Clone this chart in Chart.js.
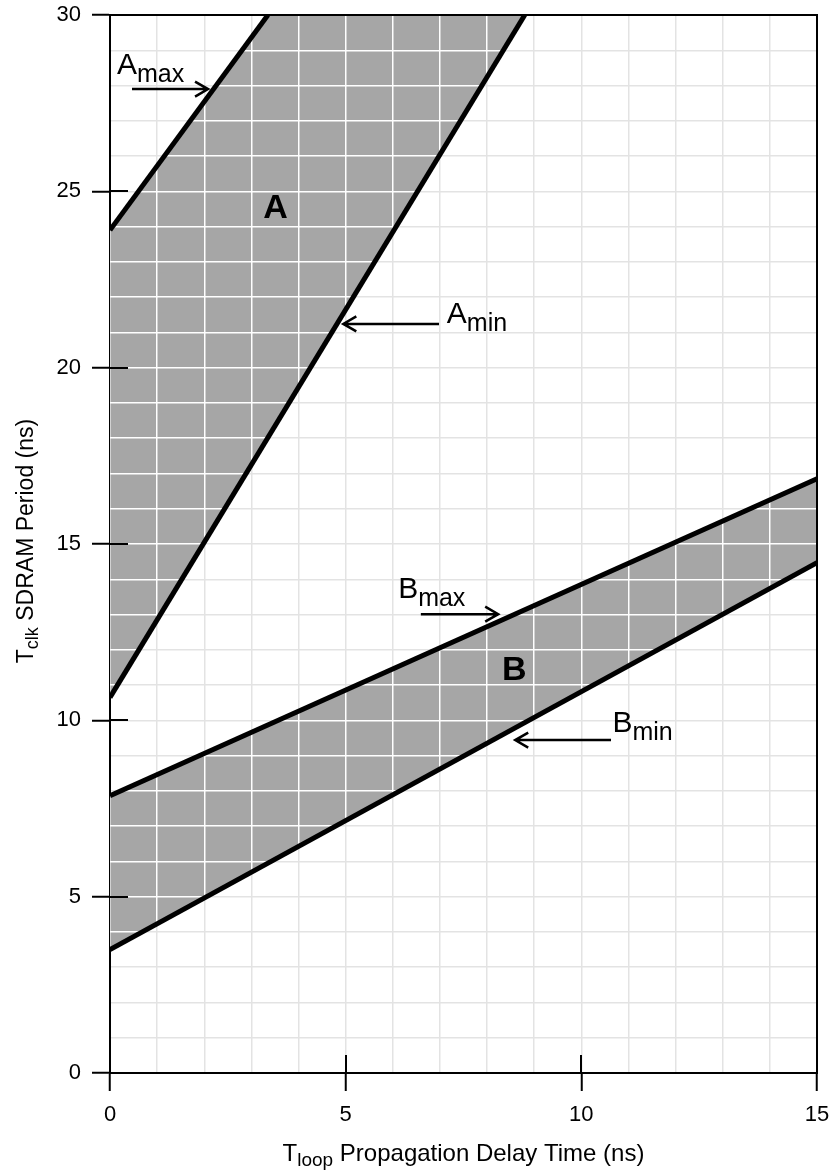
<!DOCTYPE html>
<html>
<head>
<meta charset="utf-8">
<script src="https://cdn.jsdelivr.net/npm/chart.js@4.4.1/dist/chart.umd.min.js"></script>
<style>
html,body{margin:0;padding:0;background:#fff;}
#wrap{width:830px;height:1171px;position:relative;}
</style>
</head>
<body>
<div id="wrap"><canvas id="c" width="830" height="1171"></canvas></div>
<script>
// ---- data ----
const xTickLabels = [0, 5, 10, 15];
const yTickLabels = [0, 5, 10, 15, 20, 25, 30];
const aMax = [{x: 0, y: 23.9}, {x: 3.35, y: 30}];
const aMin = [{x: 0, y: 10.65}, {x: 8.8, y: 30}];
const bMax = [{x: 0, y: 7.86}, {x: 15, y: 16.85}];
const bMin = [{x: 0, y: 3.5}, {x: 15, y: 14.47}];
const regionA = [aMin[0], aMax[0], aMax[1], aMin[1]];
const regionB = [bMin[0], bMax[0], bMax[1], bMin[1]];

const xTitle = {main: 'T', sub: 'loop', rest: ' Propagation Delay Time (ns)'};
const yTitle = {main: 'T', sub: 'clk', rest: ' SDRAM Period (ns)'};

// annotation labels (data coordinates)
const labels = [
  {main: 'A', sub: 'max', x: 0.149, y: 28.32, ax1: 0.467, ax2: 2.08, ay: 27.9},
  {main: 'A', sub: 'min', x: 7.147, y: 21.27, ax1: 6.98, ax2: 4.95, ay: 21.24},
  {main: 'B', sub: 'max', x: 6.113, y: 13.48, ax1: 6.595, ax2: 8.236, ay: 13.01},
  {main: 'B', sub: 'min', x: 10.66, y: 9.677, ax1: 10.63, ax2: 8.597, ay: 9.44}
];
const regionLabels = [
  {text: 'A', x: 3.513, y: 24.54},
  {text: 'B', x: 8.576, y: 11.45}
];

const FF = '"Liberation Sans", Arial, Helvetica, sans-serif';
const GRID = '#e3e3e3';
const FILL = '#a6a6a6';

function alignPx(p, w) { const h = w / 2; return Math.round(p - h) + h; }

function drawSubText(ctx, main, sub, rest, x, y, size, subSize, dy) {
  ctx.textAlign = 'left';
  ctx.textBaseline = 'alphabetic';
  ctx.font = size + 'px ' + FF;
  ctx.fillText(main, x, y);
  let w = ctx.measureText(main).width;
  ctx.font = subSize + 'px ' + FF;
  ctx.fillText(sub, x + w, y + dy);
  w += ctx.measureText(sub).width;
  if (rest) {
    ctx.font = size + 'px ' + FF;
    ctx.fillText(rest, x + w, y);
  }
}
function measureSub(ctx, t, size, subSize) {
  ctx.font = size + 'px ' + FF;
  let w = ctx.measureText(t.main).width + ctx.measureText(t.rest).width;
  ctx.font = subSize + 'px ' + FF;
  w += ctx.measureText(t.sub).width;
  return w;
}
function drawArrow(ctx, x1, y, x2) {
  const d = Math.sign(x2 - x1);
  ctx.beginPath();
  ctx.moveTo(x1, y);
  ctx.lineTo(x2, y);
  ctx.moveTo(x2 - d * 13, y - 7.5);
  ctx.lineTo(x2, y);
  ctx.lineTo(x2 - d * 13, y + 7.5);
  ctx.stroke();
}

const deco = {
  id: 'deco',
  afterDatasetDraw(chart, args) {
    const ds = chart.data.datasets[args.index];
    if (!ds.region) return;
    const ctx = chart.ctx, xs = chart.scales.x, ys = chart.scales.y, ca = chart.chartArea;
    const pts = args.meta.data;
    ctx.save();
    ctx.beginPath();
    pts.forEach((p, i) => i ? ctx.lineTo(p.x, p.y) : ctx.moveTo(p.x, p.y));
    ctx.closePath();
    ctx.clip();
    ctx.strokeStyle = '#fff';
    ctx.lineWidth = 1.5;
    ctx.beginPath();
    xs.ticks.forEach(t => {
      const px = alignPx(xs.getPixelForValue(t.value), 1.5);
      ctx.moveTo(px, ca.top); ctx.lineTo(px, ca.bottom);
    });
    ys.ticks.forEach(t => {
      const py = alignPx(ys.getPixelForValue(t.value), 1.5);
      ctx.moveTo(ca.left, py); ctx.lineTo(ca.right, py);
    });
    ctx.stroke();
    ctx.restore();
  },
  afterDraw(chart) {
    const ctx = chart.ctx, xs = chart.scales.x, ys = chart.scales.y, ca = chart.chartArea;
    ctx.save();
    // top & right frame
    ctx.strokeStyle = '#000';
    ctx.lineWidth = 2;
    ctx.beginPath();
    ctx.moveTo(ca.left - 1, ca.top);
    ctx.lineTo(ca.right, ca.top);
    ctx.lineTo(ca.right, ca.bottom + 1);
    ctx.stroke();
    // inward major ticks
    ctx.beginPath();
    xTickLabels.forEach(v => {
      if (v === xs.min || v === xs.max) return;
      const px = alignPx(xs.getPixelForValue(v), 2);
      ctx.moveTo(px, ca.bottom); ctx.lineTo(px, ca.bottom - 18);
    });
    yTickLabels.forEach(v => {
      if (v === ys.min || v === ys.max) return;
      const py = alignPx(ys.getPixelForValue(v), 2);
      ctx.moveTo(ca.left, py); ctx.lineTo(ca.left + 18, py);
    });
    ctx.stroke();

    ctx.fillStyle = '#000';
    // annotation labels and arrows
    ctx.lineWidth = 2.5;
    labels.forEach(l => {
      drawSubText(ctx, l.main, l.sub, '', xs.getPixelForValue(l.x), ys.getPixelForValue(l.y), 30, 25, 8);
      drawArrow(ctx, xs.getPixelForValue(l.ax1), ys.getPixelForValue(l.ay), xs.getPixelForValue(l.ax2));
    });
    // region letters
    ctx.font = 'bold 34px ' + FF;
    ctx.textAlign = 'center';
    ctx.textBaseline = 'middle';
    regionLabels.forEach(r => {
      ctx.fillText(r.text, xs.getPixelForValue(r.x), ys.getPixelForValue(r.y) + 1);
    });
    // axis titles
    const wx = measureSub(ctx, xTitle, 24, 19);
    drawSubText(ctx, xTitle.main, xTitle.sub, xTitle.rest, (ca.left + ca.right) / 2 - wx / 2, 1161, 24, 19, 5);
    const wy = measureSub(ctx, yTitle, 23, 18);
    ctx.save();
    ctx.translate(33, (ca.top + ca.bottom) / 2 - 3);
    ctx.rotate(-Math.PI / 2);
    drawSubText(ctx, yTitle.main, yTitle.sub, yTitle.rest, -wy / 2, 0, 23, 18, 5);
    ctx.restore();
    ctx.restore();
  }
};

const lineDs = (label, data) => ({
  label, data, borderColor: '#000', borderWidth: 5, fill: false,
  pointRadius: 0, borderCapStyle: 'butt', order: 0, tension: 0
});
const regionDs = (label, data) => ({
  label, data, region: true, borderWidth: 0, borderColor: 'rgba(0,0,0,0)',
  backgroundColor: FILL, fill: 'shape', pointRadius: 0, order: 2, tension: 0
});

const tickFont = {family: FF, size: 22};

new Chart(document.getElementById('c'), {
  type: 'line',
  data: {
    datasets: [
      regionDs('A region', regionA),
      regionDs('B region', regionB),
      lineDs('A max', aMax),
      lineDs('A min', aMin),
      lineDs('B max', bMax),
      lineDs('B min', bMin)
    ]
  },
  options: {
    responsive: false,
    animation: false,
    devicePixelRatio: 1,
    layout: {padding: {top: 15, right: 13, left: 0, bottom: 0}},
    plugins: {legend: {display: false}, tooltip: {enabled: false}, title: {display: false}},
    scales: {
      x: {
        type: 'linear', min: 0, max: 15,
        ticks: {
          stepSize: 1, autoSkip: false, maxRotation: 0, padding: 11, color: '#000', font: tickFont,
          callback: v => xTickLabels.includes(v) ? String(v) : ''
        },
        grid: {
          color: GRID, lineWidth: 1.5, tickLength: 18, tickWidth: 2,
          tickColor: c => xTickLabels.includes(c.tick.value) ? '#000' : 'rgba(0,0,0,0)'
        },
        border: {display: true, color: '#000', width: 2},
        afterFit: s => { s.height = 98; s.paddingLeft = 0; s.paddingRight = 0; }
      },
      y: {
        type: 'linear', min: 0, max: 30,
        ticks: {
          stepSize: 1, autoSkip: false, padding: 11, color: '#000', font: tickFont,
          callback: v => yTickLabels.includes(v) ? String(v) : ''
        },
        grid: {
          color: GRID, lineWidth: 1.5, tickLength: 18, tickWidth: 2,
          tickColor: c => yTickLabels.includes(c.tick.value) ? '#000' : 'rgba(0,0,0,0)'
        },
        border: {display: true, color: '#000', width: 2},
        afterFit: s => { s.width = 110; s.paddingTop = 0; s.paddingBottom = 0; }
      }
    }
  },
  plugins: [deco]
});
</script>
</body>
</html>
